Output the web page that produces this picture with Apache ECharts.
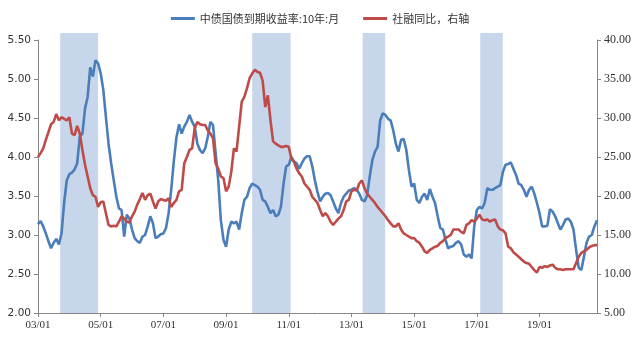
<!DOCTYPE html>
<html>
<head>
<meta charset="utf-8">
<script src="https://cdn.jsdelivr.net/npm/echarts@6/dist/echarts.min.js"></script>
<style>
  html, body { margin: 0; padding: 0; background: #fff; }
  #chart { width: 640px; height: 341px; }
</style>
</head>
<body>
<div id="chart"></div>
<script>
// Monthly categories, 2003-01 .. 2020-11, labelled "YY/MM"
const startYear = 2003;
const monthCount = 215;
const months = [];
for (let i = 0; i < monthCount; i++) {
  const y = startYear + Math.floor(i / 12);
  const m = (i % 12) + 1;
  months.push(String(y % 100).padStart(2, '0') + '/' + String(m).padStart(2, '0'));
}

// 中债国债到期收益率:10年:月 (%), one row per year
const bondYield10y = [
  3.14, 3.18, 3.11, 3.02, 2.92, 2.83, 2.90, 2.95, 2.88, 3.02, 3.41, 3.70,
  3.78, 3.80, 3.84, 3.92, 4.26, 4.30, 4.62, 4.77, 5.15, 5.03, 5.24, 5.20,
  5.07, 4.86, 4.51, 4.17, 3.92, 3.70, 3.49, 3.34, 3.32, 2.98, 3.26, 3.21,
  3.07, 2.96, 2.92, 2.90, 2.98, 3.00, 3.11, 3.24, 3.15, 2.96, 2.98, 3.01,
  3.02, 3.09, 3.28, 3.58, 3.95, 4.25, 4.42, 4.30, 4.39, 4.45, 4.54, 4.45,
  4.39, 4.17, 4.09, 4.05, 4.11, 4.26, 4.45, 4.41, 4.05, 3.70, 3.19, 2.94,
  2.85, 3.07, 3.17, 3.15, 3.17, 3.07, 3.28, 3.45, 3.49, 3.60, 3.66, 3.64,
  3.62, 3.58, 3.45, 3.43, 3.36, 3.28, 3.32, 3.24, 3.26, 3.36, 3.66, 3.88,
  3.90, 4.00, 3.94, 3.92, 3.85, 3.92, 3.98, 4.01, 4.01, 3.88, 3.70, 3.55,
  3.43, 3.49, 3.53, 3.54, 3.51, 3.43, 3.34, 3.28, 3.41, 3.49, 3.53, 3.57,
  3.58, 3.60, 3.58, 3.53, 3.45, 3.43, 3.51, 3.75, 3.96, 4.07, 4.13, 4.47,
  4.56, 4.54, 4.49, 4.47, 4.34, 4.17, 4.07, 4.22, 4.23, 4.09, 3.83, 3.62,
  3.66, 3.45, 3.41, 3.49, 3.53, 3.45, 3.59, 3.49, 3.41, 3.24, 3.09, 3.07,
  2.94, 2.83, 2.85, 2.86, 2.90, 2.92, 2.88, 2.75, 2.72, 2.75, 2.70, 3.11,
  3.32, 3.36, 3.34, 3.41, 3.60, 3.58, 3.58, 3.60, 3.62, 3.64, 3.81, 3.90,
  3.91, 3.93, 3.85, 3.77, 3.66, 3.64, 3.58, 3.49, 3.58, 3.62, 3.53, 3.41,
  3.28, 3.11, 3.11, 3.12, 3.33, 3.30, 3.24, 3.15, 3.07, 3.13, 3.20, 3.21,
  3.17, 3.07, 2.81, 2.58, 2.55, 2.72, 2.90, 2.98, 3.00, 3.11, 3.19
];

// 社融同比 (%), right axis, one row per year
const socialFinancingYoY = [
  25.0, 25.5, 26.1, 27.2, 28.2, 29.2, 29.5, 30.5, 29.7, 30.1, 29.9, 29.7,
  30.1, 28.0, 27.8, 29.0, 28.0, 25.9, 24.0, 22.5, 21.0, 20.1, 19.9, 18.6,
  19.2, 19.3, 17.8, 16.3, 16.1, 16.2, 16.1, 16.7, 17.4, 17.1, 16.7, 16.6,
  17.4, 18.0, 18.9, 19.6, 20.4, 19.5, 20.1, 20.3, 19.3, 18.4, 19.3, 19.6,
  19.5, 19.4, 19.7, 18.6, 19.1, 19.5, 20.6, 20.8, 24.2, 25.0, 25.9, 26.1,
  28.7, 29.5, 29.2, 29.1, 29.1, 28.4, 28.0, 27.4, 24.2, 23.5, 22.5, 22.3,
  20.6, 21.2, 23.1, 26.1, 25.7, 28.9, 32.1, 32.7, 33.8, 35.1, 35.7, 36.2,
  35.9, 35.8, 34.8, 31.4, 32.9, 29.7, 27.0, 26.7, 26.5, 26.3, 26.3, 26.4,
  26.3, 24.8, 24.4, 23.5, 22.9, 22.5, 21.6, 21.2, 20.8, 19.9, 19.5, 19.1,
  18.2, 17.4, 17.8, 17.4, 16.7, 16.3, 16.7, 17.1, 17.4, 18.2, 19.3, 19.5,
  20.6, 20.8, 20.7, 21.6, 22.0, 21.0, 20.3, 19.9, 19.5, 19.1, 18.6, 18.2,
  17.8, 17.4, 16.9, 16.5, 16.1, 16.1, 16.5, 15.7, 15.2, 15.0, 14.8, 14.6,
  14.6, 14.2, 14.0, 13.5, 12.9, 12.7, 13.1, 13.3, 13.5, 13.6, 14.0, 14.2,
  14.6, 14.8, 15.0, 15.7, 15.7, 15.7, 15.4, 15.2, 16.3, 16.5, 16.9, 16.7,
  17.1, 17.6, 17.0, 16.9, 17.0, 16.7, 16.9, 17.0, 16.1, 15.7, 15.6, 15.2,
  13.5, 13.3, 12.8, 12.5, 12.2, 11.9, 11.6, 11.4, 11.3, 10.9, 10.5, 10.2,
  10.9, 10.8, 11.0, 10.9, 11.1, 11.2, 10.8, 10.6, 10.6, 10.5, 10.6, 10.6,
  10.6, 10.6, 11.4, 12.2, 12.7, 12.9, 13.1, 13.4, 13.6, 13.7, 13.7
];

// Shaded periods, as month offsets from 2003-01 (start, end)
const shadedPeriods = [
  [8.5, 23.0],
  [82.0, 96.7],
  [124.3, 132.9],
  [169.3, 177.9]
];

const seriesNames = ['中债国债到期收益率:10年:月', '社融同比，右轴'];
const leftTicks = { min: 2, max: 5.5, step: 0.5 };
const rightTicks = { min: 5, max: 40, step: 5 };

const axisGray = '#868686';
const textColor = '#333';

const chart = echarts.init(document.getElementById('chart'), null, { renderer: 'canvas' });

chart.setOption({
  animation: false,
  backgroundColor: '#fff',
  legend: {
    data: seriesNames,
    top: 8,
    left: 'center',
    icon: 'rect',
    itemWidth: 24,
    itemHeight: 3,
    itemGap: 24,
    textStyle: { fontFamily: 'Noto Sans CJK SC', fontSize: 11, color: textColor }
  },
  grid: [
    { left: 38, right: 43, top: 40, bottom: 28 },
    { left: 38, right: 43, top: 33, bottom: 28 }
  ],
  xAxis: [
    {
      type: 'category',
      gridIndex: 0,
      data: months,
      boundaryGap: false,
      axisLine: { lineStyle: { color: axisGray, width: 1 } },
      axisTick: { interval: 23, length: 4, lineStyle: { color: axisGray } },
      axisLabel: {
        interval: 23,
        margin: 7,
        fontFamily: 'Liberation Serif',
        fontSize: 11,
        color: textColor
      },
      splitLine: { show: false }
    },
    {
      type: 'value',
      gridIndex: 1,
      min: 0,
      max: monthCount - 1,
      show: false
    }
  ],
  yAxis: [
    {
      type: 'value',
      gridIndex: 0,
      position: 'left',
      min: leftTicks.min,
      max: leftTicks.max,
      interval: leftTicks.step,
      axisLine: { show: true, lineStyle: { color: axisGray } },
      axisTick: { show: true, length: 4, lineStyle: { color: axisGray } },
      axisLabel: {
        margin: 7,
        formatter: v => v.toFixed(2),
        fontFamily: 'DejaVu Sans',
        fontSize: 10.5,
        color: textColor
      },
      splitLine: { show: false }
    },
    {
      type: 'value',
      gridIndex: 0,
      position: 'right',
      min: rightTicks.min,
      max: rightTicks.max,
      interval: rightTicks.step,
      axisLine: { show: true, lineStyle: { color: axisGray } },
      axisTick: { show: true, length: 4, lineStyle: { color: axisGray } },
      axisLabel: {
        margin: 7,
        formatter: v => v.toFixed(2),
        fontFamily: 'Liberation Serif',
        fontSize: 12,
        color: textColor
      },
      splitLine: { show: false }
    },
    {
      type: 'value',
      gridIndex: 1,
      min: 0,
      max: 1,
      show: false
    }
  ],
  series: [
    {
      name: 'shaded',
      type: 'line',
      xAxisIndex: 1,
      yAxisIndex: 2,
      data: [],
      z: 1,
      silent: true,
      markArea: {
        silent: true,
        itemStyle: { color: '#c7d6eb' },
        data: shadedPeriods.map(([a, b]) => [{ xAxis: a }, { xAxis: b }])
      }
    },
    {
      name: seriesNames[0],
      type: 'line',
      xAxisIndex: 0,
      yAxisIndex: 0,
      data: bondYield10y,
      symbol: 'none',
      z: 3,
      itemStyle: { color: '#4a7ebb' },
      lineStyle: { color: '#4a7ebb', width: 2.6 }
    },
    {
      name: seriesNames[1],
      type: 'line',
      xAxisIndex: 0,
      yAxisIndex: 1,
      data: socialFinancingYoY,
      symbol: 'none',
      z: 3,
      itemStyle: { color: '#be4b48' },
      lineStyle: { color: '#be4b48', width: 2.6 }
    }
  ]
});
</script>
</body>
</html>
